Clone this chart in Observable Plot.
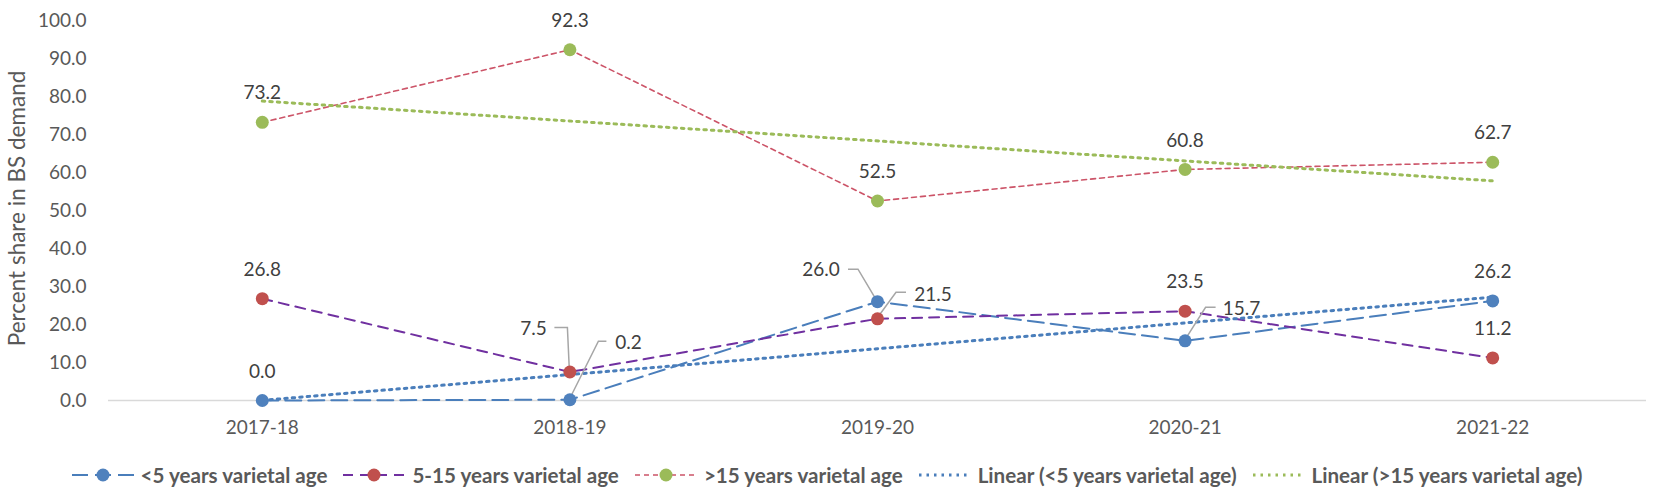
<!DOCTYPE html>
<html><head><meta charset="utf-8">
<script src="https://cdn.jsdelivr.net/npm/d3@7"></script>
<script src="https://cdn.jsdelivr.net/npm/@observablehq/plot@0.6"></script>
<style>
body{margin:0;background:#fff;font-family:Lato,"Open Sans",sans-serif;}
#legend{display:flex;justify-content:center;align-items:center;height:50px;gap:16px;font-weight:bold;color:#595959;font-size:20.6px;font-family:Lato,sans-serif;}
.item{display:flex;align-items:center;gap:7px;}
.item svg{display:block;}
</style></head><body>
<div id="chart"></div>
<div id="legend"></div>
<script>
// ---- data ----
const years = ["2017-18", "2018-19", "2019-20", "2020-21", "2021-22"];
const under5 = [0.0, 0.2, 26.0, 15.7, 26.2];
const from5to15 = [26.8, 7.5, 21.5, 23.5, 11.2];
const over15 = [73.2, 92.3, 52.5, 60.8, 62.7];
const seriesNames = ["<5 years varietal age", "5-15 years varietal age", ">15 years varietal age"];
const trendNames = ["Linear (<5 years varietal age)", "Linear (>15 years varietal age)"];
const yTicks = [0, 10, 20, 30, 40, 50, 60, 70, 80, 90, 100];
const yTitle = "Percent share in BS demand";

// ---- styles ----
const lineColor = ["#4a7ebb", "#7030a0", "#cc5468"];
const dotColor = ["#4f81bd", "#c0504d", "#9bbb59"];
const dash = ["16,7", "10,7", "5,4"];
const lineW = [2, 2, 1.6];
const trendColor = ["#4a7ebb", "#9bbb59"];

const toRows = (vals, s) => vals.map((v, k) => ({i: k + 1, year: years[k], value: v, series: seriesNames[s]}));
const S = [toRows(under5, 0), toRows(from5to15, 1), toRows(over15, 2)];

// label callouts (series index, category index, pixel offsets)
const callouts = [
  {s: 0, k: 1, dx: 59, dy: -57, leader: [[29, -58], [37, -58]]},
  {s: 1, k: 1, dx: -36, dy: -43, leader: [[-2, -44], [-15, -44]]},
  {s: 0, k: 2, dx: -56, dy: -32, leader: [[-19, -32], [-29, -32]]},
  {s: 1, k: 2, dx: 56, dy: -24, leader: [[19, -26], [29, -26]]},
  {s: 0, k: 3, dx: 57, dy: -32, leader: [[21, -33], [31, -33]]}
];
const isCallout = (s, k) => callouts.some(c => c.s === s && c.k === k);
const aboveLabels = S.flatMap((rows, s) => rows.filter((d, k) => !isCallout(s, k)));

function leaders(index, scales) {
  const g = d3.create("svg:g");
  for (const c of callouts) {
    const d = S[c.s][c.k];
    const px = scales.x(d.i), py = scales.y(d.value);
    g.append("path")
      .attr("d", `M${px},${py}L${px + c.leader[0][0]},${py + c.leader[0][1]}L${px + c.leader[1][0]},${py + c.leader[1][1]}`)
      .attr("fill", "none").attr("stroke", "#a6a6a6").attr("stroke-width", 1.5);
  }
  return g.node();
}
function calloutTexts(index, scales) {
  const g = d3.create("svg:g");
  for (const c of callouts) {
    const d = S[c.s][c.k];
    const px = scales.x(d.i), py = scales.y(d.value);
    g.append("text").attr("x", px + c.dx).attr("y", py + c.dy).attr("dy", "0.35em")
      .attr("text-anchor", "middle").attr("fill", "#404040").attr("font-size", 19)
      .text(d.value.toFixed(1));
  }
  return g.node();
}

const chart = Plot.plot({
  width: 1654, height: 450,
  marginLeft: 108, marginRight: 8, marginTop: 20, marginBottom: 50,
  style: {fontFamily: "Lato, sans-serif", fontSize: "19px", color: "#595959", background: "#fff"},
  x: {type: "linear", domain: [0.5, 5.5]},
  y: {domain: [0, 100]},
  marks: [
    Plot.ruleY([0], {stroke: "#d9d9d9", strokeWidth: 1.5}),
    Plot.axisY({ticks: yTicks, tickFormat: d => d.toFixed(1), tickSize: 0, tickPadding: 22, label: null, fontSize: 19}),
    Plot.axisX({ticks: [1, 2, 3, 4, 5], tickFormat: i => years[i - 1], tickSize: 0, tickPadding: 20, label: null, fontSize: 19}),
    Plot.text([yTitle], {frameAnchor: "left", textAnchor: "middle", rotate: -90, dx: -91, dy: -2, fill: "#595959", fontSize: 22.5}),
    ...S.map((rows, s) => Plot.line(rows, {x: "i", y: "value", stroke: lineColor[s], strokeWidth: lineW[s], strokeDasharray: dash[s]})),
    Plot.linearRegressionY(S[0], {x: "i", y: "value", ci: 0, stroke: trendColor[0], strokeWidth: 3, strokeDasharray: "2.5,5"}),
    Plot.linearRegressionY(S[2], {x: "i", y: "value", ci: 0, stroke: trendColor[1], strokeWidth: 3, strokeDasharray: "2.5,5"}),
    leaders,
    ...S.map((rows, s) => Plot.dot(rows, {x: "i", y: "value", r: 6.5, fill: dotColor[s], stroke: "none"})),
    Plot.text(aboveLabels, {x: "i", y: "value", text: d => d.value.toFixed(1), dy: -29, fill: "#404040", fontSize: 19}),
    calloutTexts
  ]
});
document.getElementById("chart").appendChild(chart);

// ---- legend ----
const legend = d3.select("#legend");
seriesNames.forEach((name, s) => {
  const it = legend.append("div").attr("class", "item");
  const sv = it.append("svg").attr("width", 62).attr("height", 20);
  sv.append("line").attr("x1", 0).attr("x2", 62).attr("y1", 10).attr("y2", 10)
    .attr("stroke", lineColor[s]).attr("stroke-width", lineW[s]).attr("stroke-dasharray", dash[s]);
  sv.append("circle").attr("cx", 31).attr("cy", 10).attr("r", 6.5).attr("fill", dotColor[s]);
  it.append("span").text(name);
});
trendNames.forEach((name, t) => {
  const it = legend.append("div").attr("class", "item");
  const sv = it.append("svg").attr("width", 52).attr("height", 20);
  sv.append("line").attr("x1", 0).attr("x2", 52).attr("y1", 10).attr("y2", 10)
    .attr("stroke", trendColor[t]).attr("stroke-width", 3).attr("stroke-dasharray", "2.5,5");
  it.append("span").text(name);
});
</script>
</body></html>
